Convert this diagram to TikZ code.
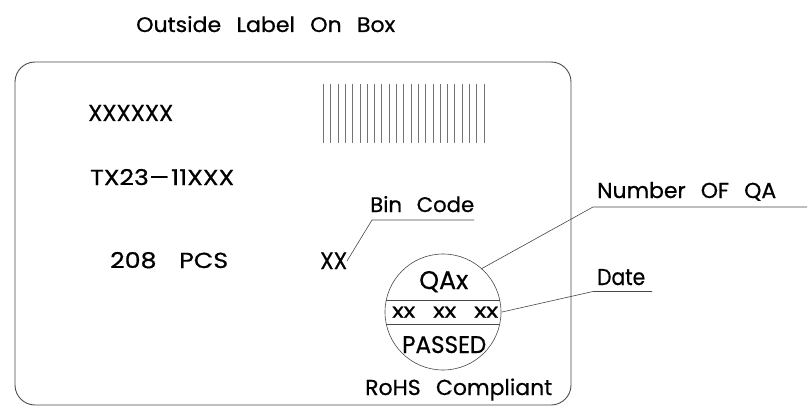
\documentclass[tikz,border=0pt]{standalone}
\usepackage{fontspec}
\setmainfont[WordSpace=2.6,FakeBold=0.6]{Poppins}
\tikzset{
  lbl/.style={inner sep=0pt,anchor=base west,font=\fontsize{20}{20}\selectfont},
  thin line/.style={draw=black!72,line width=0.6pt},
  bar line/.style={draw=black!55,line width=0.5pt},
  box line/.style={draw=black!70,line width=0.9pt}
}
\newcommand{\fit}[3]{\resizebox{#1pt}{#2pt}{#3}}
\begin{document}
\begin{tikzpicture}[x=1pt,y=-1pt]
\useasboundingbox (0,0) rectangle (810,417);
\fill[white] (0,0) rectangle (810,417);
\draw[box line,rounded corners=20pt] (15,62) rectangle (571,405);
\foreach \i in {0,...,22} \draw[bar line] ({323.3+\i*7.3},84) -- ({323.3+\i*7.3},143);
\node[lbl] (title) at (136,32) {\fit{259}{16}{Outside Label On Box}};
\node[lbl] (pn) at (88,121) {\fit{85}{16}{XXXXXX}};
\node[lbl] (tx) at (90,185) {\fit{144}{16}{TX23\scalebox{1.6}[1]{-}11XXX}};
\node[lbl] (pcs) at (110,268) {\fit{118}{16}{208\hspace{0.9em}PCS}};
\node[lbl] (xx) at (320,269) {\fit{27}{16.5}{XX}};
\node[lbl] (bin) at (370,212) {\fit{104}{16}{Bin Code}};
\node[lbl] (nqa) at (597,198) {\fit{179}{16}{Number OF QA}};
\node[lbl] (date) at (597,285) {\fit{48}{16}{Date}};
\node[lbl] (qa) at (419,289) {\fit{49}{18}{QAx}};
\node[lbl] (d1) at (392,317.7) {\fit{23}{11}{xx}};
\node[lbl] (d2) at (433,317.7) {\fit{23}{11}{xx}};
\node[lbl] (d3) at (474,317.7) {\fit{24}{11}{xx}};
\node[lbl] (pass) at (402,353) {\fit{84}{17}{PASSED}};
\node[lbl] (rohs) at (365,395) {\fit{187}{16.5}{RoHS Compliant}};
\node[circle,draw=black!72,line width=0.6pt,minimum size=116pt,inner sep=0pt] (seal) at (443,312) {};
\draw[thin line] (seal.center) ++(-56.7,-12) coordinate (a1) -- ++(113.4,0) coordinate (a2);
\draw[thin line] (seal.center) ++(-56.7,12.5) coordinate (b1) -- ++(113.4,0) coordinate (b2);
\coordinate (binA) at (347,261); \coordinate (binB) at (372,220); \coordinate (binC) at (474,220);
\draw[thin line] (binA) -- (binB) -- (binC);
\coordinate (qaA) at (481,269); \coordinate (qaB) at (593,207); \coordinate (qaC) at (807,207);
\draw[thin line] (qaA) -- (qaB) -- (qaC);
\coordinate (dA) at (502,312); \coordinate (dB) at (593,291.5); \coordinate (dC) at (652,291.5);
\draw[thin line] (dA) -- (dB) -- (dC);
\end{tikzpicture}
\end{document}
